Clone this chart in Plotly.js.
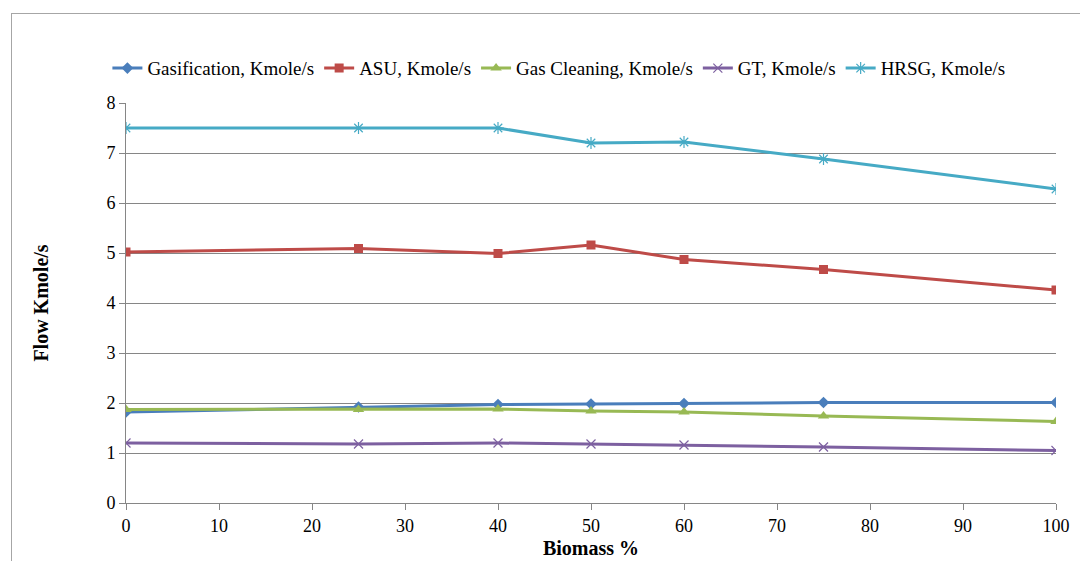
<!DOCTYPE html>
<html>
<head>
<meta charset="utf-8">
<script src="https://cdn.plot.ly/plotly-3.0.1.min.js"></script>
<style>
  html, body { margin: 0; padding: 0; background: #fff; }
  #frame { position: absolute; left: 11px; top: 13px; width: 1080px; height: 560px; border: 1px solid #a6a6a6; box-sizing: border-box; pointer-events: none; }
  #chart { width: 1080px; height: 561px; }
</style>
</head>
<body>
<div id="chart"></div>
<div id="frame"></div>
<script>
// Biomass share in the feed (%)
const biomass = [0, 25, 40, 50, 60, 75, 100];

// Molar flows per plant section (Kmole/s)
const gasification = [1.82, 1.92, 1.97, 1.98, 1.99, 2.01, 2.01];
const asu          = [5.02, 5.09, 4.99, 5.16, 4.87, 4.67, 4.26];
const gasCleaning  = [1.87, 1.87, 1.88, 1.84, 1.82, 1.74, 1.63];
const gt           = [1.20, 1.18, 1.20, 1.18, 1.16, 1.12, 1.05];
const hrsg         = [7.50, 7.50, 7.50, 7.20, 7.22, 6.88, 6.28];

const seriesNames = ['Gasification, Kmole/s', 'ASU, Kmole/s', 'Gas Cleaning, Kmole/s', 'GT, Kmole/s', 'HRSG, Kmole/s'];
const xTicks = [0, 10, 20, 30, 40, 50, 60, 70, 80, 90, 100];
const yTicks = [0, 1, 2, 3, 4, 5, 6, 7, 8];

function line(y, name, color, symbol, size, mline) {
  return {
    x: biomass, y: y, name: name, type: 'scatter', mode: 'lines+markers',
    line: { color: color, width: 3 },
    marker: { color: color, symbol: symbol, size: size, line: { color: color, width: mline } }
  };
}

const traces = [
  line(gasification, seriesNames[0], '#4a7ebb', 'diamond', 9, 0),
  line(asu,          seriesNames[1], '#be4b48', 'square', 9, 0),
  line(gasCleaning,  seriesNames[2], '#98b954', 'triangle-up', 10, 0),
  line(gt,           seriesNames[3], '#7d60a0', 'x-thin-open', 9, 1.2),
  line(hrsg,         seriesNames[4], '#46aac5', 'asterisk-open', 10, 1.2)
];

const serif = 'Liberation Serif';

const layout = {
  width: 1080, height: 561,
  margin: { l: 126, r: 24, t: 103, b: 58 },
  paper_bgcolor: '#ffffff', plot_bgcolor: '#ffffff',
  font: { family: serif, size: 18, color: '#000' },
  showlegend: true,
  legend: {
    orientation: 'h', x: -0.02, xanchor: 'left', y: 1.087, yanchor: 'middle',
    font: { family: serif, size: 19, color: '#000' },
    itemwidth: 30, tracegroupgap: 0, bgcolor: 'rgba(0,0,0,0)'
  },
  xaxis: {
    range: [0, 100], tickvals: xTicks, ticktext: xTicks.map(String),
    showgrid: false, zeroline: false,
    showline: true, linecolor: '#868686', linewidth: 1,
    ticks: 'outside', ticklen: 6, tickcolor: '#868686',
    tickfont: { family: serif, size: 18 },
    title: { text: '<b>Biomass %</b>', font: { family: serif, size: 20 }, standoff: 6 },
    fixedrange: true
  },
  yaxis: {
    range: [0, 8], tickvals: yTicks, ticktext: yTicks.map(String),
    showgrid: true, gridcolor: '#868686', gridwidth: 1, zeroline: false,
    showline: true, linecolor: '#868686', linewidth: 1,
    ticks: 'outside', ticklen: 6, tickcolor: '#868686',
    tickfont: { family: serif, size: 18 },
    title: { text: '<b>Flow Kmole/s</b>', font: { family: serif, size: 20 }, standoff: 52 },
    fixedrange: true
  }
};

Plotly.newPlot('chart', traces, layout, { displayModeBar: false, staticPlot: true });
</script>
</body>
</html>
